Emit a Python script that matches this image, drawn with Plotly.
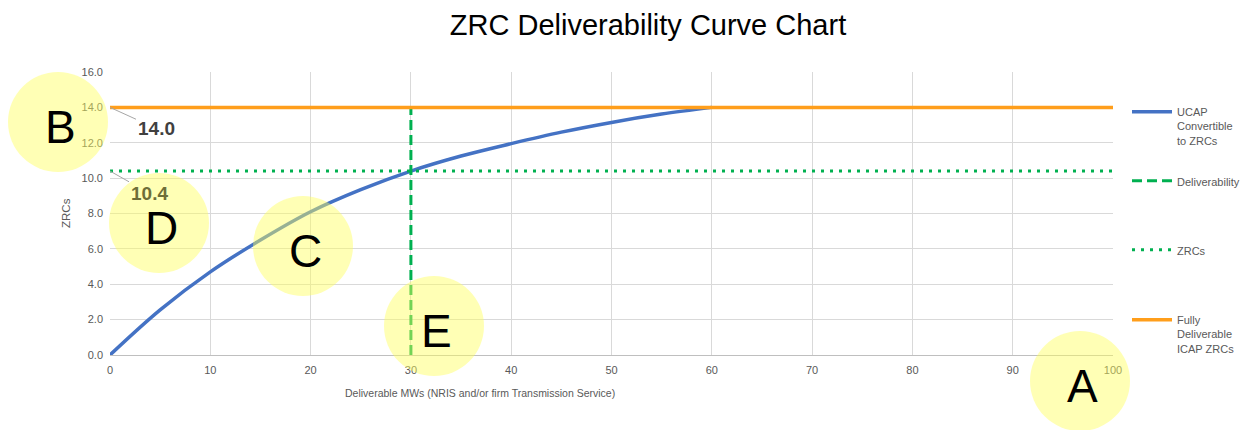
import plotly.graph_objects as go

# =========================
# DATA
# =========================
mw = [0, 5, 10, 15, 20, 25, 30, 35, 40, 45, 50, 55, 60]
ucap_zrc = [0, 2.55, 4.7, 6.5, 8.1, 9.35, 10.4, 11.25, 11.95, 12.6, 13.15, 13.62, 14.0]

deliv_x = [30, 30]
deliv_y = [0, 14.0]

zrc_x = [0, 100]
zrc_y = [10.4, 10.4]

full_x = [0, 100]
full_y = [14.0, 14.0]

x_ticks = [0, 10, 20, 30, 40, 50, 60, 70, 80, 90, 100]
y_ticks = [0, 2, 4, 6, 8, 10, 12, 14, 16]

# callout letters (pixel positions of the yellow markers)
callouts = [("A", 1080, 381), ("B", 58, 122), ("C", 303, 246), ("D", 159, 223), ("E", 434, 326)]

BLUE = "#4472C4"
GREEN = "#00B050"
ORANGE = "#FF9E1B"
GRAY = "#595959"

# page has an 8px body margin, so the figure is drawn 8px smaller/shifted
OFF = 8
W, H = 1248 - OFF, 430 - OFF
# plot area in page pixels
L, R, T, B = 110, 1113, 72, 355


def px(x):
    return (x - L) / (R - L)


def py(y):
    return (B - y) / (B - T)


fig = go.Figure()

fig.add_trace(go.Scatter(
    x=mw, y=ucap_zrc, mode="lines", name="UCAP<br>Convertible<br>to ZRCs",
    line=dict(color=BLUE, width=3.5, shape="spline", smoothing=1.0),
    legend="legend"
))
fig.add_trace(go.Scatter(
    x=deliv_x, y=deliv_y, mode="lines", name="Deliverability",
    line=dict(color=GREEN, width=3, dash="10px,5px"),
    legend="legend2"
))
fig.add_trace(go.Scatter(
    x=zrc_x, y=zrc_y, mode="lines", name="ZRCs",
    line=dict(color=GREEN, width=3, dash="3px,6px"),
    legend="legend3"
))
fig.add_trace(go.Scatter(
    x=full_x, y=full_y, mode="lines", name="Fully<br>Deliverable<br>ICAP ZRCs",
    line=dict(color=ORANGE, width=3.5),
    legend="legend4"
))

# =========================
# LAYOUT
# =========================
leg = dict(x=px(1127), xanchor="left", yanchor="top", valign="top", itemwidth=40,
           bgcolor="rgba(0,0,0,0)", font=dict(family="Arial", size=11, color=GRAY))

fig.update_layout(
    width=W, height=H,
    margin=dict(l=L - OFF, r=1248 - R, t=T - OFF, b=430 - B, autoexpand=False),
    plot_bgcolor="white", paper_bgcolor="white",
    title=dict(text="ZRC Deliverability Curve Chart", x=(648 - OFF) / W, xanchor="center",
               y=1 - (25 - OFF) / H, yanchor="middle",
               font=dict(family="Arial", size=29, color="black")),
    legend=dict(leg, y=py(98)),
    legend2=dict(leg, y=py(167)),
    legend3=dict(leg, y=py(236)),
    legend4=dict(leg, y=py(306)),
    showlegend=True,
)

fig.update_xaxes(
    range=[0, 100], tickvals=x_ticks, showgrid=True, gridcolor="#D9D9D9",
    showline=True, linecolor="#BFBFBF", zeroline=False,
    tickfont=dict(family="Arial", size=11, color=GRAY), ticklabelstandoff=5
)
fig.update_yaxes(
    range=[0, 16], tickvals=y_ticks, tickformat=".1f", showgrid=True,
    gridcolor="#D9D9D9", zeroline=False, showline=False,
    tickfont=dict(family="Arial", size=11, color=GRAY), ticklabelstandoff=6
)

# axis titles
fig.add_annotation(text="Deliverable MWs (NRIS and/or firm Transmission Service)",
                   xref="paper", yref="paper", x=px(480), y=py(393),
                   xanchor="center", yanchor="middle", showarrow=False,
                   font=dict(family="Arial", size=10.5, color=GRAY))
fig.add_annotation(text="ZRCs", xref="paper", yref="paper", x=px(66), y=py(213),
                   xanchor="center", yanchor="middle",
                   textangle=-90, showarrow=False,
                   font=dict(family="Arial", size=11.5, color=GRAY))

# data labels
fig.add_annotation(x=0, y=full_y[0], text="<b>14.0</b>", showarrow=True,
                   arrowhead=0, arrowwidth=1, arrowcolor="#A6A6A6",
                   ax=46, ay=21, font=dict(family="Arial", size=19, color="#404040"))
fig.add_annotation(x=0, y=zrc_y[0], text="<b>10.4</b>", showarrow=True,
                   arrowhead=0, arrowwidth=1, arrowcolor="#A6A6A6",
                   ax=39, ay=22, font=dict(family="Arial", size=19, color="#6E6E38"))

# yellow callout markers
for letter, cx, cy in callouts:
    fig.add_shape(type="circle", xref="paper", yref="paper",
                  xsizemode="pixel", ysizemode="pixel",
                  xanchor=px(cx), yanchor=py(cy),
                  x0=-50, x1=50, y0=-50, y1=50,
                  fillcolor="rgba(255,255,90,0.45)", line=dict(width=0),
                  layer="above")
    fig.add_annotation(text=letter, xref="paper", yref="paper",
                       x=px(cx + 2), y=py(cy + 5),
                       xanchor="center", yanchor="middle", showarrow=False,
                       font=dict(family="Arial", size=46, color="black"))

fig.write_html("out.html")
